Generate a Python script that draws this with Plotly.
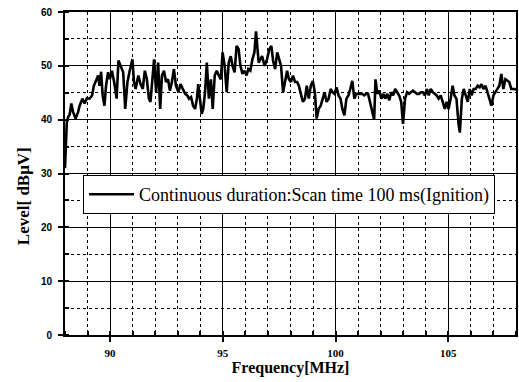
import plotly.graph_objects as go

freq_mhz = [
    88.00, 88.04, 88.08, 88.14, 88.21, 88.28, 88.36, 88.47, 88.58, 88.65, 88.77, 88.87, 88.97,
    89.09, 89.20, 89.28, 89.38, 89.47, 89.53, 89.60, 89.67, 89.75, 89.82, 89.91, 89.99,
    90.08, 90.18, 90.29, 90.37, 90.48, 90.58, 90.67, 90.77, 90.87, 90.99,
    91.06, 91.13, 91.25, 91.35, 91.45, 91.54, 91.63, 91.72, 91.79, 91.87, 91.95,
    92.04, 92.13, 92.22, 92.30, 92.39, 92.48, 92.57, 92.65, 92.74, 92.83, 92.92,
    93.03, 93.12, 93.21, 93.33, 93.42, 93.50, 93.59, 93.68, 93.77, 93.85, 93.91, 93.99,
    94.06, 94.13, 94.21, 94.29, 94.38, 94.47, 94.55, 94.64, 94.73, 94.82, 94.91, 94.99,
    95.08, 95.17, 95.26, 95.35, 95.43, 95.52, 95.61, 95.70, 95.78, 95.87, 95.96,
    96.05, 96.13, 96.22, 96.31, 96.40, 96.47, 96.59, 96.74, 96.85, 96.96,
    97.06, 97.15, 97.23, 97.32, 97.41, 97.50, 97.58, 97.67, 97.76, 97.85, 97.93,
    98.02, 98.11, 98.20, 98.29, 98.37, 98.46, 98.55, 98.64, 98.72, 98.81, 98.90, 98.99,
    99.08, 99.16, 99.25, 99.34, 99.43, 99.51, 99.60, 99.69, 99.78, 99.86, 99.95,
    100.04, 100.13, 100.22, 100.30, 100.39, 100.48, 100.57, 100.65, 100.74, 100.83, 100.92,
    101.01, 101.09, 101.18, 101.27, 101.36, 101.44, 101.53, 101.62, 101.71, 101.77, 101.85, 101.94,
    102.03, 102.12, 102.20, 102.29, 102.38, 102.47, 102.55, 102.64, 102.73, 102.82, 102.91, 102.99,
    103.08, 103.17, 103.26, 103.34, 103.43, 103.52, 103.61, 103.70, 103.78, 103.87, 103.96,
    104.05, 104.13, 104.22, 104.31, 104.40, 104.48, 104.57, 104.66, 104.75, 104.84, 104.92,
    105.01, 105.10, 105.19, 105.27, 105.36, 105.45, 105.51, 105.60, 105.68, 105.77, 105.86, 105.95,
    106.03, 106.12, 106.21, 106.30, 106.39, 106.47, 106.56, 106.65, 106.74, 106.82, 106.91,
    107.00, 107.09, 107.18, 107.26, 107.35, 107.44, 107.53, 107.61, 107.70, 107.79, 107.88, 107.95, 108.00,
]

level_dbuv = [
    31.0, 36.0, 39.5, 40.5, 41.0, 43.0, 41.4, 40.2, 41.4, 42.6, 43.9, 43.0, 44.0,
    43.9, 44.5, 46.3, 47.2, 48.2, 46.3, 48.9, 44.5, 42.6, 46.3, 48.8, 47.5,
    49.1, 47.0, 43.9, 51.0, 50.0, 48.8, 42.0, 47.0, 49.1, 51.2,
    47.0, 45.7, 48.2, 46.6, 45.7, 49.1, 47.5, 43.9, 43.3, 47.0, 51.2,
    45.1, 50.6, 42.0, 48.2, 49.1, 47.0, 47.5, 45.4, 47.0, 49.4, 46.3,
    45.1, 46.6, 45.7, 44.8, 44.5, 43.9, 44.2, 42.6, 42.0, 43.9, 46.6, 43.9,
    41.1, 42.0, 45.1, 50.6, 43.9, 47.5, 42.0, 48.2, 49.1, 48.2, 47.5, 52.5,
    50.0, 45.1, 50.6, 51.8, 50.0, 48.8, 53.7, 53.1, 50.0, 48.5, 49.1,
    48.2, 49.4, 49.1, 51.2, 52.5, 56.4, 50.6, 51.8, 50.0, 51.2,
    53.1, 53.7, 50.9, 49.4, 52.5, 50.9, 50.0, 45.1, 47.0, 49.1, 47.5,
    47.0, 48.2, 47.0, 47.0, 46.3, 44.8, 43.3, 43.9, 46.3, 43.9, 46.3, 47.2,
    45.1, 40.2, 42.0, 42.6, 43.9, 45.1, 43.3, 43.9, 45.7, 45.1, 44.8,
    46.0, 44.5, 43.9, 42.0, 40.8, 43.9, 44.5, 45.7, 47.2, 43.9, 44.8,
    44.8, 44.8, 44.8, 44.5, 44.8, 44.8, 43.3, 41.4, 40.0, 47.5, 44.8, 45.4,
    43.9, 44.8, 43.9, 44.8, 43.6, 45.1, 44.5, 45.7, 45.1, 44.5, 43.3, 39.2,
    43.9, 45.1, 44.8, 45.1, 45.4, 45.1, 44.8, 44.8, 45.1, 45.1, 44.5,
    45.7, 44.5, 45.7, 45.1, 44.8, 44.5, 43.9, 44.5, 43.3, 42.0, 43.3,
    42.0, 43.9, 46.3, 44.5, 43.9, 39.2, 37.6, 43.9, 45.7, 44.5, 43.3, 45.7,
    44.5, 45.7, 45.7, 46.3, 46.0, 46.6, 45.7, 46.3, 45.1, 43.9, 42.6,
    44.5, 45.1, 45.7, 46.3, 48.5, 45.7, 47.5, 47.2, 47.0, 45.7, 45.7, 45.7, 45.5,
]

series_name = "Continuous duration:Scan time 100 ms(Ignition)"
x_title = "Frequency[MHz]"
y_title = "Level[ dBμV]"
x_ticks = [90, 95, 100, 105]
y_ticks = [0, 10, 20, 30, 40, 50, 60]

SERIF = "Liberation Serif, Times New Roman, serif"

fig = go.Figure()
fig.add_trace(go.Scatter(
    x=freq_mhz, y=level_dbuv, mode="lines", name=series_name,
    line=dict(color="black", width=2.6),
))

fig.update_layout(
    width=519, height=382,
    margin=dict(l=65, r=1, t=12, b=47),
    paper_bgcolor="white", plot_bgcolor="white",
    font=dict(family=SERIF, color="black"),
    showlegend=True,
    legend=dict(
        x=0.04, y=0.495, xanchor="left", yanchor="top",
        bgcolor="white", bordercolor="black", borderwidth=1,
        font=dict(family=SERIF, size=18, color="black"),
        itemwidth=45, tracegroupgap=0,
    ),
    annotations=[dict(
        text=y_title, textangle=-90, xref="paper", yref="paper",
        x=-0.093, y=0.43, xanchor="center", yanchor="middle", showarrow=False,
        font=dict(family=SERIF, size=17, color="black", weight="bold"),
    )],
)

fig.update_xaxes(
    range=[88, 108], tickvals=x_ticks, ticktext=[str(v) for v in x_ticks],
    showline=True, linecolor="black", linewidth=2, mirror=True,
    ticks="outside", ticklen=5, tickwidth=1.5, tickcolor="black",
    showgrid=True, gridcolor="black", gridwidth=1,
    tickfont=dict(family=SERIF, size=11, color="black", weight="bold"),
    ticklabelstandoff=2,
    minor=dict(dtick=1, tick0=88, ticks="inside", ticklen=4, tickcolor="black",
               showgrid=True, gridcolor="black", griddash="dot", gridwidth=1),
    title=dict(text=x_title, font=dict(family=SERIF, size=16, color="black", weight="bold"),
               standoff=0),
    zeroline=False,
)
fig.update_yaxes(
    range=[0, 60], tickvals=y_ticks,
    showline=True, linecolor="black", linewidth=2, mirror=True,
    ticks="outside", ticklen=5, tickwidth=1.5, tickcolor="black",
    showgrid=True, gridcolor="black", gridwidth=1,
    tickfont=dict(family="Liberation Sans, Arial, sans-serif", size=10, color="black", weight="bold"),
    ticklabelstandoff=4,
    minor=dict(dtick=5, tick0=0, ticks="inside", ticklen=4, tickcolor="black",
               showgrid=True, gridcolor="black", griddash="dot", gridwidth=1),
    zeroline=False,
)

fig.write_html("out.html")
